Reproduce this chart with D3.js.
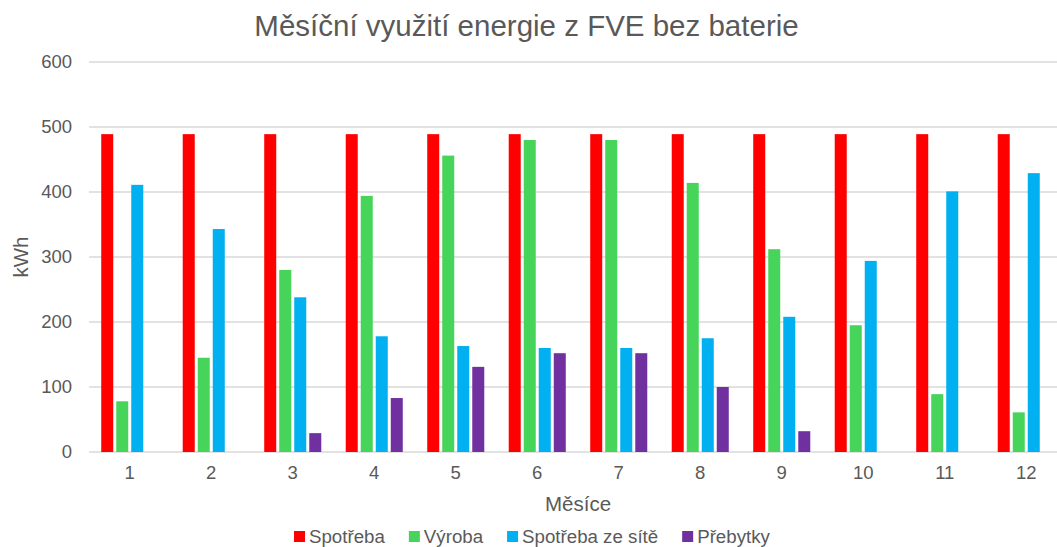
<html>
<head>
  <meta charset="utf-8">
  <script src="https://cdn.jsdelivr.net/npm/d3@7/dist/d3.min.js"></script>
  <style>
    body { margin: 0; background: #fff; }
    text { font-family: "Liberation Sans", Arial, sans-serif; fill: #595959; }
  </style>
</head>
<body>
  <svg id="container" width="1057" height="547"></svg>
<script>
  // data
  const months = ['1', '2', '3', '4', '5', '6', '7', '8', '9', '10', '11', '12'];
  const seriesNames = ['Spotřeba', 'Výroba', 'Spotřeba ze sítě', 'Přebytky'];
  const spotreba = [489, 489, 489, 489, 489, 489, 489, 489, 489, 489, 489, 489];
  const vyroba = [78, 145, 280, 394, 456, 480, 480, 414, 312, 195, 89, 61];
  const zeSite = [411, 343, 238, 178, 163, 160, 160, 175, 208, 294, 401, 429];
  const prebytky = [0, 0, 29, 83, 131, 152, 152, 100, 32, 0, 0, 0];
  const yTicks = [0, 100, 200, 300, 400, 500, 600];

  const colors = ['#FF0000', '#47D45A', '#00B0F0', '#7030A0'];
  const values = [spotreba, vyroba, zeSite, prebytky];

  const svg = d3.select('#container');

  const plotLeft = 89, plotRight = 1067, plotTop = 62, plotBottom = 452;

  const x0 = d3.scaleBand()
    .domain(months)
    .range([plotLeft, plotRight])
    .paddingInner(0.3)
    .paddingOuter(0.15);

  const x1 = d3.scaleBand()
    .domain(seriesNames)
    .range([0, x0.bandwidth()])
    .paddingInner(0.2);

  const y = d3.scaleLinear()
    .domain([0, 600])
    .range([plotBottom, plotTop]);

  // gridlines
  svg.append('g')
    .selectAll('line')
    .data(yTicks)
    .enter()
    .append('line')
    .attr('x1', plotLeft)
    .attr('x2', plotRight)
    .attr('y1', d => y(d))
    .attr('y2', d => y(d))
    .attr('stroke', '#D9D9D9')
    .attr('stroke-width', 1.3);

  // y axis labels
  const yAxis = svg.append('g')
    .attr('transform', `translate(${plotLeft}, 0)`)
    .call(d3.axisLeft(y).tickValues(yTicks).tickSize(0).tickPadding(17));
  yAxis.select('.domain').remove();
  yAxis.selectAll('text')
    .style('font-size', '18.5px')
    .attr('fill', '#595959');

  // bars
  const groups = svg.append('g')
    .selectAll('g')
    .data(months)
    .enter()
    .append('g')
    .attr('transform', d => `translate(${x0(d)}, 0)`);

  groups.selectAll('rect')
    .data((m, i) => seriesNames.map((s, k) => ({ s: s, v: values[k][i], c: colors[k] })))
    .enter()
    .append('rect')
    .attr('x', d => x1(d.s))
    .attr('y', d => y(d.v))
    .attr('width', x1.bandwidth())
    .attr('height', d => plotBottom - y(d.v))
    .attr('fill', d => d.c);

  // x axis
  const xAxis = svg.append('g')
    .attr('transform', `translate(0, ${plotBottom})`)
    .call(d3.axisBottom(x0).tickSize(0).tickPadding(14));
  xAxis.select('.domain').remove();
  xAxis.selectAll('text')
    .style('font-size', '18.5px')
    .attr('fill', '#595959');

  // titles
  svg.append('text')
    .attr('x', 526.5)
    .attr('y', 36)
    .attr('text-anchor', 'middle')
    .style('font-size', '29.5px')
    .text('Měsíční využití energie z FVE bez baterie');

  svg.append('text')
    .attr('x', (plotLeft + plotRight) / 2)
    .attr('y', 511)
    .attr('text-anchor', 'middle')
    .style('font-size', '20.5px')
    .text('Měsíce');

  svg.append('text')
    .attr('transform', `translate(28, ${(plotTop + plotBottom) / 2}) rotate(-90)`)
    .attr('text-anchor', 'middle')
    .style('font-size', '20.5px')
    .text('kWh');

  // legend
  const legend = svg.append('g');
  let lx = 294;
  seriesNames.forEach((s, k) => {
    legend.append('rect')
      .attr('x', lx)
      .attr('y', 531)
      .attr('width', 11)
      .attr('height', 11)
      .attr('fill', colors[k]);
    const t = legend.append('text')
      .attr('x', lx + 15)
      .attr('y', 543)
      .style('font-size', '18.7px')
      .text(s);
    lx += 15 + t.node().getComputedTextLength() + 24;
  });
</script>
</body>
</html>
